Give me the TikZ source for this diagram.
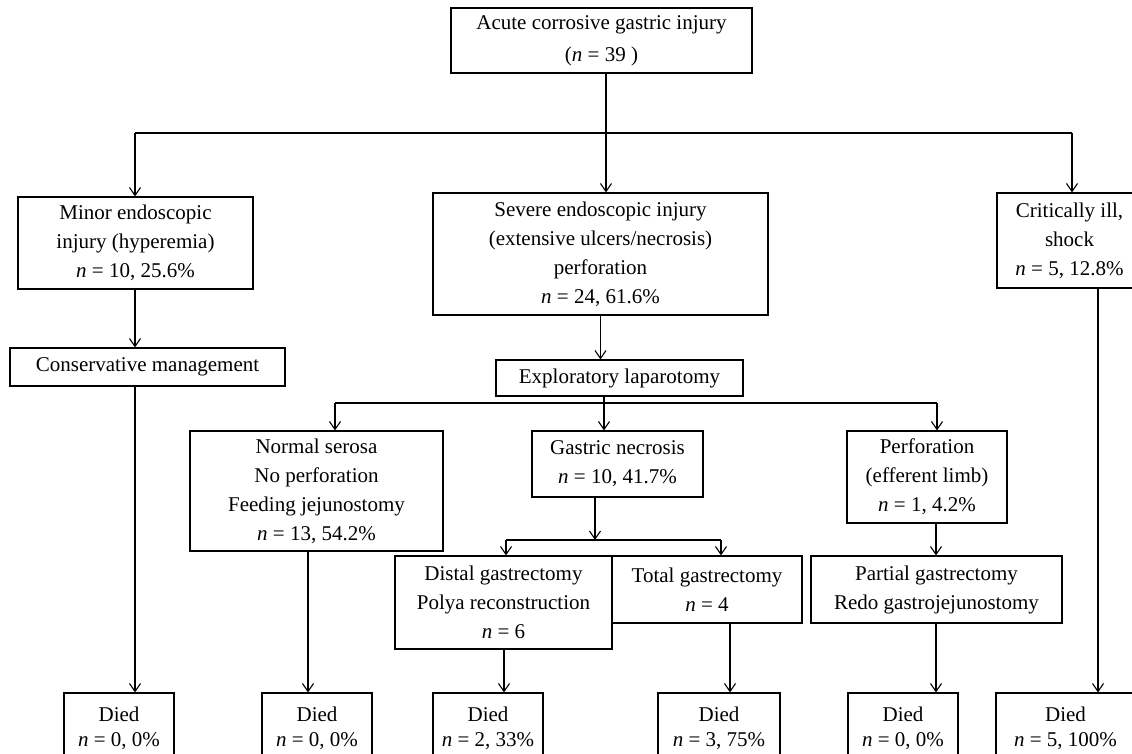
\documentclass[tikz,border=0pt]{standalone}
\usepackage{fontspec}
\setmainfont{Liberation Serif}
\usetikzlibrary{arrows.meta}
\tikzset{
  box/.style={draw, line width=1.1pt, inner sep=0pt, align=center, font=\fontsize{21}{29}\selectfont},
  diedbox/.style={box, font=\fontsize{21}{25}\selectfont, minimum height=71pt},
  arr/.style={line width=1.1pt, -{Straight Barb[length=8pt,width=11pt]}},
  ln/.style={line width=1.1pt}
}
\newcommand{\nn}{\textit{n}}
\begin{document}
\begin{tikzpicture}[x=1pt,y=-1pt]
\useasboundingbox (0,0) rectangle (1132,753);
\clip (0,0) rectangle (1132,753);
% boxes
\node[box, minimum width=301pt, minimum height=65pt] (top) at (601.5,40.5) {Acute corrosive gastric injury\\[3pt](\nn{} = 39 )};
\node[box, minimum width=235pt, minimum height=92pt] (minor) at (135.5,243) {Minor endoscopic\\injury (hyperemia)\\\nn{} = 10, 25.6\%};
\node[box, minimum width=335pt, minimum height=122pt] (severe) at (600.5,254) {Severe endoscopic injury\\(extensive ulcers/necrosis)\\perforation\\\nn{} = 24, 61.6\%};
\node[box, minimum width=145pt, minimum height=95pt] (crit) at (1069.5,240.5) {Critically ill,\\shock\\\nn{} = 5, 12.8\%};
\node[box, minimum width=275pt, minimum height=38pt] (conserv) at (147.5,367) {Conservative management};
\node[box, minimum width=247pt, minimum height=36pt] (explor) at (619.5,378) {Exploratory laparotomy};
\node[box, minimum width=253pt, minimum height=120pt] (normal) at (316.5,491) {Normal serosa\\No perforation\\Feeding jejunostomy\\\nn{} = 13, 54.2\%};
\node[box, minimum width=171pt, minimum height=66pt] (gastric) at (617.5,464) {Gastric necrosis\\\nn{} = 10, 41.7\%};
\node[box, minimum width=160pt, minimum height=92pt] (perf) at (927,477) {Perforation\\(efferent limb)\\\nn{} = 1, 4.2\%};
\node[box, minimum width=217pt, minimum height=93pt] (distal) at (503.5,602.5) {Distal gastrectomy\\Polya reconstruction\\\nn{} = 6};
\node[box, minimum width=190pt, minimum height=67pt] (total) at (707,589.5) {Total gastrectomy\\\nn{} = 4};
\node[box, minimum width=251pt, minimum height=67pt] (partial) at (936.5,589.5) {Partial gastrectomy\\Redo gastrojejunostomy};
\node[diedbox, minimum width=110pt] (died1) at (119,728.5) {Died\\\nn{} = 0, 0\%};
\node[diedbox, minimum width=110pt] (died2) at (317,728.5) {Died\\\nn{} = 0, 0\%};
\node[diedbox, minimum width=110pt] (died3) at (488,728.5) {Died\\\nn{} = 2, 33\%};
\node[diedbox, minimum width=122pt] (died4) at (719,728.5) {Died\\\nn{} = 3, 75\%};
\node[diedbox, minimum width=110pt] (died5) at (903,728.5) {Died\\\nn{} = 0, 0\%};
\node[diedbox, minimum width=139pt] (died6) at (1065.5,728.5) {Died\\\nn{} = 5, 100\%};
% junction coordinates
\coordinate (c1) at (606,133);
\coordinate (hL) at (135,133);
\coordinate (hR) at (1072,133);
\coordinate (e1) at (604,403);
\coordinate (eL) at (335,403);
\coordinate (eR) at (937,403);
\coordinate (g1) at (595,540);
\coordinate (gL) at (506,540);
\coordinate (gR) at (721,540);
\coordinate (xN) at (308,0);
\coordinate (xD) at (504,0);
\coordinate (xT) at (730,0);
\coordinate (xP) at (936,0);
\coordinate (xC) at (1098,0);
% connectors
\draw[arr] (top.south -| c1) -- (severe.north -| c1);
\draw[ln] (hL) -- (hR);
\draw[arr] (hL) -- (minor.north -| hL);
\draw[arr] (hR) -- (crit.north -| hR);
\draw[arr] (minor.south -| hL) -- (conserv.north -| hL);
\draw[arr] (conserv.south -| hL) -- (died1.north -| hL);
\draw[arr] (severe.south) -- (explor.north -| severe.south);
\draw[arr] (explor.south -| e1) -- (gastric.north -| e1);
\draw[ln] (eL) -- (eR);
\draw[arr] (eL) -- (normal.north -| eL);
\draw[arr] (eR) -- (perf.north -| eR);
\draw[arr] (gastric.south -| g1) -- (g1);
\draw[ln] (gL) -- (gR);
\draw[arr] (gL) -- (distal.north -| gL);
\draw[arr] (gR) -- (total.north -| gR);
\draw[arr] (normal.south -| xN) -- (died2.north -| xN);
\draw[arr] (distal.south -| xD) -- (died3.north -| xD);
\draw[arr] (total.south -| xT) -- (died4.north -| xT);
\draw[arr] (perf.south -| xP) -- (partial.north -| xP);
\draw[arr] (partial.south -| xP) -- (died5.north -| xP);
\draw[arr] (crit.south -| xC) -- (died6.north -| xC);
\end{tikzpicture}
\end{document}
